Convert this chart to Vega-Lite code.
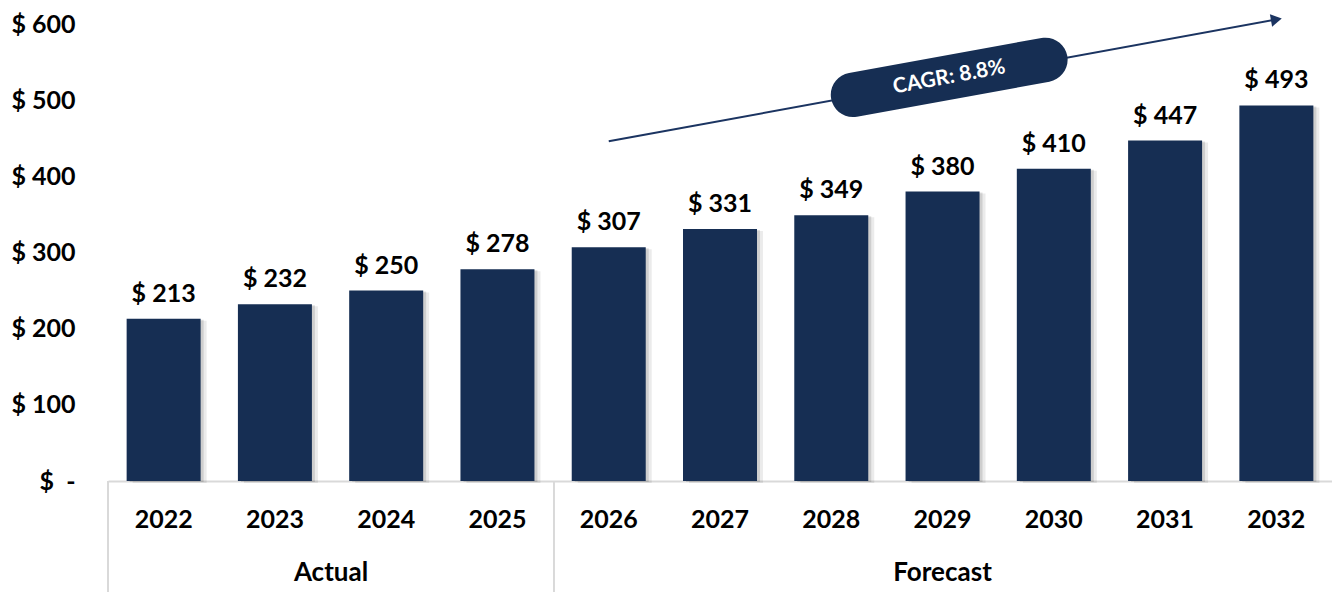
{
  "$schema": "https://vega.github.io/schema/vega-lite/v6.json",
  "width": 1224,
  "height": 457,
  "autosize": {"type": "none"},
  "padding": {"left": 108, "top": 24, "right": 0, "bottom": 111},
  "background": "white",
  "config": {
    "view": {"stroke": null},
    "font": "Lato",
    "axisX": {
      "ticks": false,
      "labelAngle": 0,
      "labelFontSize": 25,
      "labelFontWeight": "bold",
      "labelColor": "#000000",
      "labelPadding": 26,
      "domainColor": "#d9d9d9",
      "domainWidth": 2,
      "grid": false
    },
    "axisY": {
      "tickCount": 6,
      "grid": false,
      "domain": false,
      "ticks": false,
      "labelPadding": 33,
      "labelFontSize": 25,
      "labelFontWeight": "bold",
      "labelColor": "#000000",
      "labelExpr": "datum.value == 0 ? '$\u00a0\u00a0-\u00a0\u00a0' : '$ ' + datum.value"
    }
  },
  "datasets": {
    "bars": [
      {"year": "2022", "value": 213},
      {"year": "2023", "value": 232},
      {"year": "2024", "value": 250},
      {"year": "2025", "value": 278},
      {"year": "2026", "value": 307},
      {"year": "2027", "value": 331},
      {"year": "2028", "value": 349},
      {"year": "2029", "value": 380},
      {"year": "2030", "value": 410},
      {"year": "2031", "value": 447},
      {"year": "2032", "value": 493}
    ],
    "trend": [
      {"year": "2026", "value": 446},
      {"year": "2032", "value": 606}
    ],
    "tip": [{"year": "2032", "value": 606}],
    "cagr": [{"year": "2029", "value": 530, "label": "CAGR: 8.8%"}],
    "sepLeft": [{"year": "2022", "value": 0, "bottom": -146}],
    "sepMid": [{"year": "2026", "value": 0, "bottom": -146}],
    "grpActual": [{"year": "2023", "value": -121, "group": "Actual"}],
    "grpForecast": [{"year": "2029", "value": -121, "group": "Forecast"}]
  },
  "layer": [
    {
      "data": {"name": "bars"},
      "mark": {"type": "bar", "color": "#000000", "opacity": 0.08, "xOffset": 6, "yOffset": 2},
      "encoding": {
        "x": {
          "field": "year",
          "type": "nominal",
          "scale": {
            "domain": ["2022","2023","2024","2025","2026","2027","2028","2029","2030","2031","2032"],
            "paddingInner": 0.335,
            "paddingOuter": 0.1675
          },
          "axis": {"title": null}
        },
        "y": {
          "field": "value",
          "type": "quantitative",
          "scale": {"domain": [0, 600], "nice": false},
          "axis": {"title": null}
        }
      }
    },
    {
      "data": {"name": "bars"},
      "mark": {"type": "bar", "color": "#000000", "opacity": 0.12, "xOffset": 3, "yOffset": 1},
      "encoding": {
        "x": {"field": "year", "type": "nominal", "axis": {"title": null}},
        "y": {"field": "value", "type": "quantitative", "axis": {"title": null}}
      }
    },
    {
      "data": {"name": "bars"},
      "mark": {"type": "bar", "color": "#162e53"},
      "encoding": {
        "x": {"field": "year", "type": "nominal", "axis": {"title": null}},
        "y": {"field": "value", "type": "quantitative", "axis": {"title": null}}
      }
    },
    {
      "data": {"name": "bars"},
      "transform": [{"calculate": "'$ ' + datum.value", "as": "label"}],
      "mark": {"type": "text", "fontSize": 25, "fontWeight": "bold", "color": "#000000", "baseline": "bottom", "dy": -12},
      "encoding": {
        "x": {"field": "year", "type": "nominal", "axis": {"title": null}},
        "y": {"field": "value", "type": "quantitative", "axis": {"title": null}},
        "text": {"field": "label"}
      }
    },
    {
      "data": {"name": "trend"},
      "mark": {"type": "line", "color": "#1b3461", "strokeWidth": 2, "clip": false},
      "encoding": {
        "x": {"field": "year", "type": "nominal", "axis": {"title": null}},
        "y": {"field": "value", "type": "quantitative", "axis": {"title": null}}
      }
    },
    {
      "data": {"name": "tip"},
      "mark": {"type": "point", "shape": "triangle-right", "filled": true, "color": "#1b3461", "opacity": 1, "size": 160, "angle": -10.3, "clip": false},
      "encoding": {
        "x": {"field": "year", "type": "nominal", "axis": {"title": null}},
        "y": {"field": "value", "type": "quantitative", "axis": {"title": null}}
      }
    },
    {
      "data": {"name": "cagr"},
      "mark": {
        "type": "point",
        "shape": "M -0.815 -0.185 L 0.815 -0.185 A 0.185 0.185 0 0 1 0.815 0.185 L -0.815 0.185 A 0.185 0.185 0 0 1 -0.815 -0.185 Z",
        "filled": true,
        "color": "#162e53",
        "opacity": 1,
        "size": 57600,
        "angle": -10.3
      },
      "encoding": {
        "x": {"field": "year", "type": "nominal", "bandPosition": 0.59, "axis": {"title": null}},
        "y": {"field": "value", "type": "quantitative", "axis": {"title": null}}
      }
    },
    {
      "data": {"name": "cagr"},
      "mark": {"type": "text", "fontSize": 21, "fontWeight": "bold", "color": "#ffffff", "angle": -10.3, "align": "center", "baseline": "middle"},
      "encoding": {
        "x": {"field": "year", "type": "nominal", "bandPosition": 0.59, "axis": {"title": null}},
        "y": {"field": "value", "type": "quantitative", "axis": {"title": null}},
        "text": {"field": "label"}
      }
    },
    {
      "data": {"name": "sepLeft"},
      "mark": {"type": "rule", "color": "#d9d9d9", "strokeWidth": 2, "clip": false},
      "encoding": {
        "x": {"field": "year", "type": "nominal", "bandPosition": -0.252, "axis": {"title": null}},
        "y": {"field": "value", "type": "quantitative", "axis": {"title": null}},
        "y2": {"field": "bottom"}
      }
    },
    {
      "data": {"name": "sepMid"},
      "mark": {"type": "rule", "color": "#d9d9d9", "strokeWidth": 2, "clip": false},
      "encoding": {
        "x": {"field": "year", "type": "nominal", "bandPosition": -0.24, "axis": {"title": null}},
        "y": {"field": "value", "type": "quantitative", "axis": {"title": null}},
        "y2": {"field": "bottom"}
      }
    },
    {
      "data": {"name": "grpActual"},
      "mark": {"type": "text", "fontSize": 26, "fontWeight": "bold", "color": "#000000", "baseline": "middle"},
      "encoding": {
        "x": {"field": "year", "type": "nominal", "bandPosition": 1.258, "axis": {"title": null}},
        "y": {"field": "value", "type": "quantitative", "axis": {"title": null}},
        "text": {"field": "group"}
      }
    },
    {
      "data": {"name": "grpForecast"},
      "mark": {"type": "text", "fontSize": 26, "fontWeight": "bold", "color": "#000000", "baseline": "middle"},
      "encoding": {
        "x": {"field": "year", "type": "nominal", "axis": {"title": null}},
        "y": {"field": "value", "type": "quantitative", "axis": {"title": null}},
        "text": {"field": "group"}
      }
    }
  ]
}
